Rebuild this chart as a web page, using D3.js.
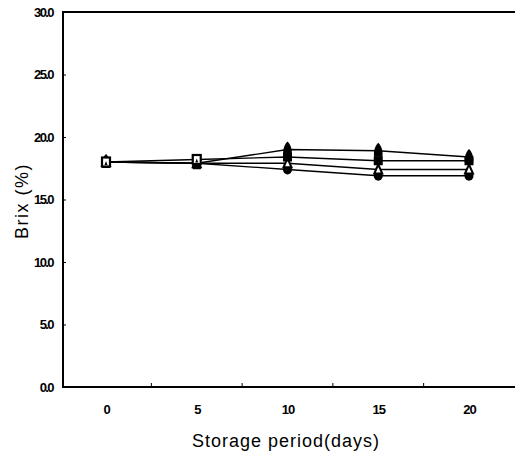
<!DOCTYPE html>
<html>
<head>
<meta charset="utf-8">
<script src="https://cdn.jsdelivr.net/npm/d3@7"></script>
<style>
  body { margin: 0; background: #fff; }
  text { font-family: "Liberation Sans", Arial, sans-serif; }
</style>
</head>
<body>
<div id="container"></div>
<script>
let w = 515;
let h = 459;

// data
let days = [0, 5, 10, 15, 20];
let triFilled = [18.0, 17.9, 19.0, 18.9, 18.4];
let squares   = [18.0, 18.2, 18.4, 18.1, 18.1];
let triOpen   = [18.0, 17.9, 17.9, 17.4, 17.4];
let circles   = [18.0, 17.9, 17.4, 16.9, 16.9];
let yTicks = [0, 5, 10, 15, 20, 25, 30];
let xLabels = [0, 5, 10, 15, 20];
let xMinor = [2.5, 7.5, 12.5, 17.5];

let series = [
  {name: "circle", values: circles},
  {name: "triOpen", values: triOpen},
  {name: "triFilled", values: triFilled},
  {name: "square", values: squares}
];

let viz = d3.select('#container')
  .append("svg")
    .attr("width", w)
    .attr("height", h)
    .style("background-color", "#fff");

let x = d3.scaleLinear().domain([0, 20]).range([106, 469]);
let y = d3.scaleLinear().domain([0, 30]).range([387, 12]);

// frame: left, top, bottom (runs off the right edge)
viz.append("line").attr("x1", 63).attr("x2", 63).attr("y1", 11).attr("y2", 388)
  .attr("stroke", "black").attr("stroke-width", 2);
viz.append("line").attr("x1", 62).attr("x2", 515).attr("y1", 12).attr("y2", 12)
  .attr("stroke", "black").attr("stroke-width", 2);
viz.append("line").attr("x1", 62).attr("x2", 515).attr("y1", 387).attr("y2", 387)
  .attr("stroke", "black").attr("stroke-width", 2);

// y axis
let yAxis = d3.axisLeft(y).tickValues(yTicks).tickSize(-3).tickPadding(10)
  .tickFormat(d3.format(".1f"));
let gy = viz.append("g").attr("transform", "translate(63,0)").call(yAxis);
gy.select(".domain").remove();
gy.selectAll("text")
  .style("font-size", "13px").style("font-weight", "bold")
  .style("letter-spacing", "-1.6px").attr("fill", "black");

// x axis
let xAxis = d3.axisBottom(x).tickValues(xLabels).tickSize(0).tickPadding(18)
  .tickFormat(d3.format("d"));
let gx = viz.append("g").attr("transform", "translate(0,387)").call(xAxis);
gx.select(".domain").remove();
gx.selectAll("text")
  .style("font-size", "13px").style("font-weight", "bold")
  .style("letter-spacing", "-1px").attr("fill", "black");

viz.selectAll(".minor").data(xMinor).enter().append("line")
  .attr("class", "minor")
  .attr("x1", d => x(d)).attr("x2", d => x(d))
  .attr("y1", 387).attr("y2", 383)
  .attr("stroke", "black").attr("stroke-width", 1);

// axis titles
viz.append("text").text("Storage period(days)")
  .attr("x", 286).attr("y", 447).attr("text-anchor", "middle")
  .style("font-size", "18px").style("letter-spacing", "1px");
viz.append("text").text("Brix (%)")
  .attr("transform", "translate(28,201) rotate(-90)")
  .attr("text-anchor", "middle")
  .style("font-size", "18px").style("letter-spacing", "1.5px");

// lines
let line = d3.line().x((d, i) => x(days[i])).y(d => y(d));
viz.selectAll(".series").data(series).enter().append("path")
  .attr("class", "series")
  .attr("d", d => line(d.values))
  .attr("fill", "none").attr("stroke", "black").attr("stroke-width", 1.3);

// markers
let groups = viz.selectAll(".marks").data(series).enter().append("g").attr("class", "marks");
let pts = groups.selectAll(".pt").data(d => d.values.map((v, i) => ({name: d.name, day: days[i], v: v})))
  .enter().append("g")
  .attr("class", "pt")
  .attr("transform", d => "translate(" + x(d.day) + "," + y(d.v) + ")");

pts.filter(d => d.name == "circle").append("ellipse")
  .attr("rx", 4.5).attr("ry", 5).attr("fill", "black");
pts.filter(d => d.name == "triOpen").append("path")
  .attr("d", "M0,-5 L-4,4 L4,4 Z")
  .attr("fill", "white").attr("stroke", "black").attr("stroke-width", 2);
pts.filter(d => d.name == "triFilled").append("path")
  .attr("d", "M0,-8 C4,-4 5,2 4,6 L-4,6 C-5,2 -4,-4 0,-8 Z")
  .attr("fill", "black");
pts.filter(d => d.name == "square" && d.day > 5).append("rect")
  .attr("x", -4.5).attr("y", -4.5).attr("width", 9).attr("height", 9)
  .attr("fill", "black");
pts.filter(d => d.name == "square" && d.day <= 5).append("rect")
  .attr("x", -4).attr("y", -4.5).attr("width", 8).attr("height", 9)
  .attr("fill", "white").attr("stroke", "black").attr("stroke-width", 2.2);
pts.filter(d => d.name == "square" && d.day <= 5).append("path")
  .attr("d", "M0,-1 L-1.5,3 L1.5,3 Z").attr("fill", "black");
</script>
</body>
</html>
